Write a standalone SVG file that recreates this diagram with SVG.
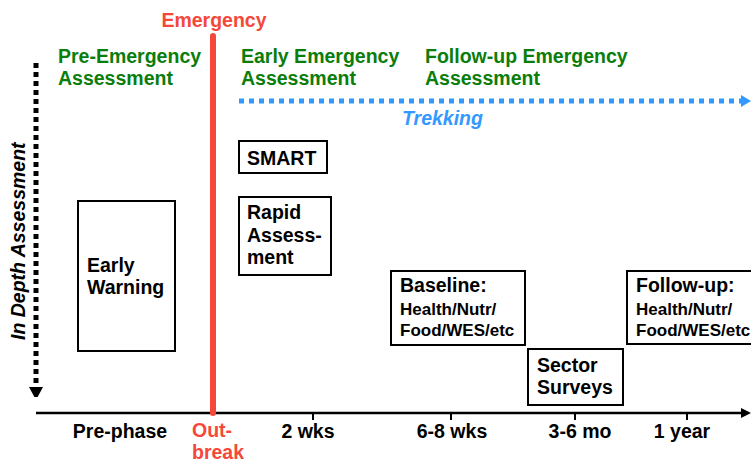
<svg xmlns="http://www.w3.org/2000/svg" width="751" height="463" viewBox="0 0 751 463">
<style>
text{font-family:"Liberation Sans",Arial,sans-serif;font-weight:bold;font-size:19.5px;fill:#000}
.g{fill:#0a7d0a}
.r{fill:#f5483a}
.sm{font-size:17px}
.box{fill:#fff;stroke:#000;stroke-width:2}
.ax{text-anchor:middle}
</style>
<defs>
<marker id="ab" markerWidth="10" markerHeight="10" refX="0" refY="5" orient="auto" markerUnits="userSpaceOnUse"><path d="M0,0 L10,5 L0,10 Z" fill="#000"/></marker>
<marker id="abl" markerWidth="10" markerHeight="12" refX="0" refY="6" orient="auto" markerUnits="userSpaceOnUse"><path d="M0,0 L10,6 L0,12 Z" fill="#3399ff"/></marker>
<marker id="ad" markerWidth="10" markerHeight="14" refX="0" refY="7" orient="auto" markerUnits="userSpaceOnUse"><path d="M0,0 L13,7 L0,14 Z" fill="#000"/></marker>
</defs>
<g id="connectors">
<line x1="36" y1="413" x2="741" y2="413" stroke="#000" stroke-width="2.5" marker-end="url(#ab)"/>
<line x1="313" y1="413" x2="313" y2="420" stroke="#000" stroke-width="2"/>
<line x1="451" y1="413" x2="451" y2="420" stroke="#000" stroke-width="2"/>
<line x1="575" y1="413" x2="575" y2="420" stroke="#000" stroke-width="2"/>
<line x1="687" y1="413" x2="687" y2="420" stroke="#000" stroke-width="2"/>
<line x1="213" y1="36" x2="213" y2="413" stroke="#f5483a" stroke-width="6" stroke-linecap="round"/>
<line x1="239" y1="101" x2="741" y2="101" stroke="#3399ff" stroke-width="5" stroke-dasharray="5 5" marker-end="url(#abl)"/>
<line x1="36" y1="63" x2="36" y2="387" stroke="#000" stroke-width="5" stroke-dasharray="5 4" marker-end="url(#ad)"/>
</g>
<text class="r" x="214" y="27" text-anchor="middle">Emergency</text>
<text class="g" x="58" y="63">Pre-Emergency</text>
<text class="g" x="58" y="85">Assessment</text>
<text class="g" x="241" y="63">Early Emergency</text>
<text class="g" x="241" y="85">Assessment</text>
<text class="g" x="425" y="63">Follow-up Emergency</text>
<text class="g" x="425" y="85">Assessment</text>
<text x="402" y="125" style="fill:#3399ff;font-style:italic">Trekking</text>
<text transform="translate(25,340) rotate(-90)" style="font-style:italic">In Depth Assessment</text>
<g id="early-warning">
<rect class="box" x="78" y="201" width="97" height="150"/>
<text x="87" y="272">Early</text>
<text x="87" y="294">Warning</text>
</g>
<g id="smart">
<rect class="box" x="239" y="141" width="88" height="32"/>
<text x="247" y="165">SMART</text>
</g>
<g id="rapid">
<rect class="box" x="239" y="197" width="92" height="78"/>
<text x="247" y="219">Rapid</text>
<text x="247" y="242">Assess-</text>
<text x="247" y="264">ment</text>
</g>
<g id="baseline">
<rect class="box" x="391" y="271" width="134" height="74"/>
<text x="400" y="292">Baseline:</text>
<text class="sm" x="400" y="315">Health/Nutr/</text>
<text class="sm" x="400" y="336">Food/WES/etc</text>
</g>
<g id="sector">
<rect class="box" x="528" y="349" width="95" height="56"/>
<text x="537" y="372">Sector</text>
<text x="537" y="394">Surveys</text>
</g>
<g id="followup">
<rect class="box" x="627" y="271" width="140" height="73"/>
<text x="636" y="292">Follow-up:</text>
<text class="sm" x="636" y="315">Health/Nutr/</text>
<text class="sm" x="636" y="336">Food/WES/etc</text>
</g>
<g id="axis-labels">
<text class="ax" x="120" y="438">Pre-phase</text>
<text class="r" x="192" y="437">Out-</text>
<text class="r" x="192" y="459">break</text>
<text class="ax" x="308" y="438">2 wks</text>
<text class="ax" x="452" y="438">6-8 wks</text>
<text class="ax" x="580" y="438">3-6 mo</text>
<text class="ax" x="682" y="438">1 year</text>
</g>
</svg>
